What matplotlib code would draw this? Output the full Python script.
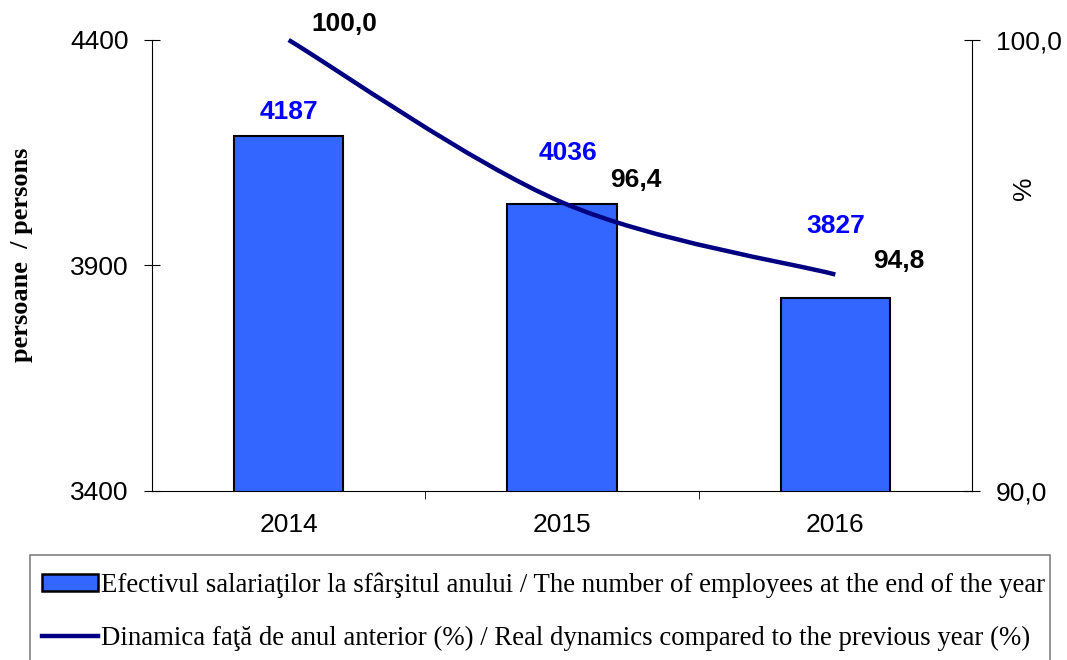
import numpy as np
import matplotlib.pyplot as plt
from matplotlib.path import Path
from matplotlib.patches import PathPatch, Patch, Rectangle
from matplotlib.lines import Line2D

years = ["2014", "2015", "2016"]
employees = [4187, 4036, 3827]
dynamics = [100.0, 96.4, 94.8]

bar_label_offsets = [(0, 17), (4, 37), (0, 52)]        # points from bar top (label centre)
line_label_offsets = [(40, 11.5), (53, 16), (46, 9.5)]  # points from line point

legend_labels = [
    "Efectivul salariaţilor la sfârşitul anului / The number of employees at the end of the year",
    "Dinamica faţă de anul anterior (%) / Real dynamics compared to the previous year (%)",
]

BAR_COLOR = "#3366FF"
LINE_COLOR = "#000080"
FS = 19

plt.rcParams["font.family"] = ["Liberation Sans", "DejaVu Sans"]

fig = plt.figure(figsize=(10.67, 6.6), dpi=100)
ax = fig.add_axes([152 / 1067, 1 - 491 / 660, 820 / 1067, 451 / 660])

x = np.arange(len(years))
ax.bar(x, employees, width=0.4, color=BAR_COLOR, edgecolor="black", linewidth=1.5, zorder=2)
ax.set_xlim(-0.5, 2.5)
ax.set_ylim(3400, 4400)
ax.set_yticks([3400, 3900, 4400])
ax.set_xticks(x)
ax.set_xticklabels(years)
ax.set_xticks([0.5, 1.5], minor=True)
ax.tick_params(axis="x", which="major", length=0, labelsize=FS, pad=16)
ax.tick_params(axis="x", which="minor", length=6, direction="out")
ax.tick_params(axis="y", direction="inout", length=12, labelsize=FS, pad=11)
for s in ["top", "right"]:
    ax.spines[s].set_visible(False)
ax.set_ylabel("persoane  / persons", family="Liberation Serif", fontweight="bold",
              fontsize=19)
ax.yaxis.set_label_coords(-0.145, 0.523)

for xi, v, (dx, dy) in zip(x, employees, bar_label_offsets):
    ax.annotate(f"{v}", (xi, v), xytext=(dx, dy), textcoords="offset points",
                ha="center", va="center", color="#0000FF", fontsize=19, fontweight="bold")

ax2 = ax.twinx()
ax2.set_ylim(90, 100)
ax2.set_yticks([90, 100])
ax2.set_yticklabels(["90,0", "100,0"])
ax2.tick_params(axis="y", direction="inout", length=12, labelsize=FS, pad=11)
for s in ["top", "left", "bottom"]:
    ax2.spines[s].set_visible(False)
ax2.set_ylabel("%", fontsize=FS)
ax2.yaxis.set_label_coords(1.049, 0.672)

# smoothed line (Catmull-Rom style bezier through the points)
pts = np.column_stack([x, dynamics]).astype(float)
ext = np.vstack([pts[0], pts, pts[-1]])
verts = [tuple(pts[0])]
codes = [Path.MOVETO]
for i in range(1, len(ext) - 2):
    p0, p1, p2, p3 = ext[i - 1], ext[i], ext[i + 1], ext[i + 2]
    c1 = p1 + (p2 - p0) / 6
    c2 = p2 - (p3 - p1) / 6
    verts += [tuple(c1), tuple(c2), tuple(p2)]
    codes += [Path.CURVE4] * 3
ax2.add_patch(PathPatch(Path(verts, codes), facecolor="none", edgecolor=LINE_COLOR,
                        linewidth=3.2, capstyle="butt", zorder=3, clip_on=False))

for xi, v, (dx, dy) in zip(x, dynamics, line_label_offsets):
    ax2.annotate(f"{v:.1f}".replace(".", ","), (xi, v), xytext=(dx, dy),
                 textcoords="offset points", ha="center", va="center",
                 color="black", fontsize=19, fontweight="bold", annotation_clip=False)

# legend box
fig.patches.append(Rectangle((30 / 1067, -0.05), 1020 / 1067, (1 - 555 / 660) + 0.05,
                             transform=fig.transFigure, facecolor="white",
                             edgecolor="#808080", linewidth=1.2))
handles = [Patch(facecolor=BAR_COLOR, edgecolor="black", linewidth=1.8),
           Line2D([], [], color=LINE_COLOR, linewidth=3.2)]
fig.legend(handles, legend_labels, loc="upper left",
           bbox_to_anchor=(42 / 1067, 1 - 572 / 660), frameon=False,
           prop={"family": "Liberation Serif", "size": 19.3},
           handlelength=2.1, handleheight=0.6, handletextpad=0.1, labelspacing=1.05,
           borderaxespad=0, borderpad=0)

fig.savefig("out.png", dpi=100)
